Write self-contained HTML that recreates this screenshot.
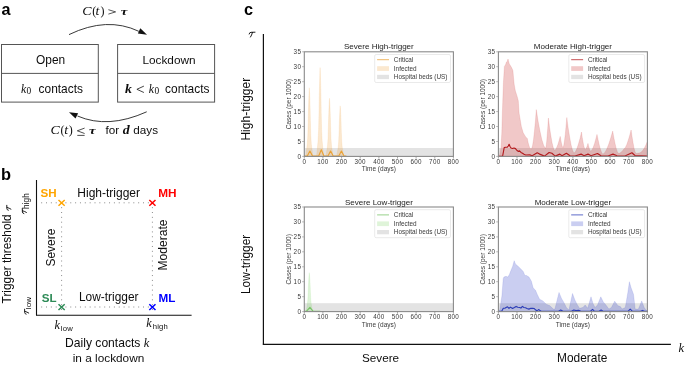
<!DOCTYPE html>
<html><head><meta charset="utf-8">
<style>
html,body{margin:0;padding:0;background:#fff;width:685px;height:366px;overflow:hidden}
svg{display:block;will-change:transform}
text{font-family:"Liberation Sans",sans-serif;fill:#0d0d0d}
.serif{font-family:"Liberation Serif",serif}
.it{font-family:"Liberation Serif",serif;font-style:italic}
.tk{font-size:6.3px;fill:#3a3a3a;letter-spacing:0.28px}
.al{font-size:6.5px;fill:#3a3a3a}
.lg{font-size:6.4px;fill:#3a3a3a}
.ttl{font-size:8.05px;fill:#222}
.lab{font-size:11.7px}
.b{font-weight:bold}
</style></head>
<body>
<svg width="685" height="366" viewBox="0 0 685 366" xmlns="http://www.w3.org/2000/svg">
<!-- panel a -->
<text x="1.5" y="14.8" class="b" style="font-size:16.2px;fill:#000">a</text>
<path d="M69,34.6 Q107,16.2 138.8,31.3" fill="none" stroke="#222" stroke-width="0.9"/>
<path d="M147,34.8 L140.3,28.2 L137.9,33.6 z" fill="#111"/>
<rect x="1.5" y="44.5" width="96.8" height="57.6" fill="none" stroke="#555" stroke-width="1"/>
<line x1="1.5" y1="73.4" x2="98.3" y2="73.4" stroke="#555" stroke-width="1"/>
<rect x="117.6" y="44.5" width="97" height="57.6" fill="none" stroke="#555" stroke-width="1"/>
<line x1="117.6" y1="73.4" x2="214.6" y2="73.4" stroke="#555" stroke-width="1"/>
<text x="50.6" y="63.7" class="lab" text-anchor="middle" style="font-size:11.9px">Open</text>
<text x="169" y="63.7" class="lab" text-anchor="middle" style="font-size:11.8px">Lockdown</text>
<path d="M146.7,111.8 Q108,129.2 77.5,116.0" fill="none" stroke="#222" stroke-width="0.9"/>
<path d="M69,112.3 L78.1,113.2 L75.5,118.6 z" fill="#111"/>
<text transform="translate(82.20,14.7) scale(1.16,1)" style='font-family:"Liberation Serif";font-size:12px;font-style:italic;'>C</text>
<text x="92.32" y="14.7" style='font-family:"Liberation Serif";font-size:12px;'>(</text>
<text transform="translate(95.55,14.7) scale(1.12,1)" style='font-family:"Liberation Serif";font-size:12.3px;font-style:italic;'>t</text>
<text x="100.44" y="14.7" style='font-family:"Liberation Serif";font-size:12px;'>)</text>
<path d="M108.4,9.7L115.6,11.9L108.4,14.1" fill="none" stroke="#222" stroke-width="0.75"/>
<text transform="translate(120.70,14.6) scale(1.35,1)" style='font-family:"Liberation Serif";font-size:11px;font-style:italic;font-weight:bold;'>τ</text>
<text transform="translate(50.40,133.6) scale(1.16,1)" style='font-family:"Liberation Serif";font-size:12px;font-style:italic;'>C</text>
<text x="60.52" y="133.6" style='font-family:"Liberation Serif";font-size:12px;'>(</text>
<text transform="translate(64.25,133.6) scale(1.12,1)" style='font-family:"Liberation Serif";font-size:12.3px;font-style:italic;'>t</text>
<text x="68.64" y="133.6" style='font-family:"Liberation Serif";font-size:12px;'>)</text>
<path d="M84.6,128.1L77.3,130.8L84.6,133.5M77.3,135.4L84.6,135.4" fill="none" stroke="#222" stroke-width="0.8"/>
<text transform="translate(88.90,133.8) scale(1.35,1)" style='font-family:"Liberation Serif";font-size:11px;font-style:italic;font-weight:bold;'>τ</text>
<text x="105.5" y="133.8" class="lab">for</text>
<text transform="translate(122.86,133.8) scale(1.2,1)" style='font-family:"Liberation Serif";font-size:11.6px;font-style:italic;font-weight:bold;'>d</text>
<text x="133.3" y="133.8" class="lab">days</text>
<text x="20.96" y="92.5" style='font-family:"Liberation Serif";font-size:11.8px;font-style:italic;'>k</text>
<text x="26.52" y="94.3" style='font-family:"Liberation Serif";font-size:9.4px;'>0</text>
<text x="38.6" y="92.5" class="lab" style="font-size:11.9px">contacts</text>
<text transform="translate(125.06,92.5) scale(1.15,1)" style='font-family:"Liberation Serif";font-size:12px;font-style:italic;font-weight:bold;'>k</text>
<path d="M143.9,86.1L136.9,89.3L143.9,92.5" fill="none" stroke="#222" stroke-width="0.85"/>
<text x="148.76" y="92.5" style='font-family:"Liberation Serif";font-size:11.8px;font-style:italic;'>k</text>
<text x="154.62" y="94.3" style='font-family:"Liberation Serif";font-size:9.4px;'>0</text>
<text x="165.1" y="92.5" class="lab" style="font-size:11.9px">contacts</text>

<!-- panel b -->
<text x="1.1" y="180" class="b" style="font-size:16.4px;fill:#000">b</text>
<line x1="36.5" y1="180" x2="36.5" y2="315.3" stroke="#111" stroke-width="1.1"/>
<line x1="36" y1="315.3" x2="191.6" y2="315.3" stroke="#111" stroke-width="1.1"/>
<g fill="#8c8c8c">
<rect x="41.15" y="202.30" width="1" height="1"/><rect x="46.00" y="202.30" width="1" height="1"/><rect x="50.85" y="202.30" width="1" height="1"/><rect x="55.70" y="202.30" width="1" height="1"/><rect x="60.55" y="202.30" width="1" height="1"/><rect x="65.40" y="202.30" width="1" height="1"/><rect x="70.25" y="202.30" width="1" height="1"/><rect x="75.10" y="202.30" width="1" height="1"/><rect x="79.95" y="202.30" width="1" height="1"/><rect x="84.80" y="202.30" width="1" height="1"/><rect x="89.65" y="202.30" width="1" height="1"/><rect x="94.50" y="202.30" width="1" height="1"/><rect x="99.35" y="202.30" width="1" height="1"/><rect x="104.20" y="202.30" width="1" height="1"/><rect x="109.05" y="202.30" width="1" height="1"/><rect x="113.90" y="202.30" width="1" height="1"/><rect x="118.75" y="202.30" width="1" height="1"/><rect x="123.60" y="202.30" width="1" height="1"/><rect x="128.45" y="202.30" width="1" height="1"/><rect x="133.30" y="202.30" width="1" height="1"/><rect x="138.15" y="202.30" width="1" height="1"/><rect x="143.00" y="202.30" width="1" height="1"/><rect x="147.85" y="202.30" width="1" height="1"/>
<rect x="41.15" y="306.50" width="1" height="1"/><rect x="46.00" y="306.50" width="1" height="1"/><rect x="50.85" y="306.50" width="1" height="1"/><rect x="55.70" y="306.50" width="1" height="1"/><rect x="60.55" y="306.50" width="1" height="1"/><rect x="65.40" y="306.50" width="1" height="1"/><rect x="70.25" y="306.50" width="1" height="1"/><rect x="75.10" y="306.50" width="1" height="1"/><rect x="79.95" y="306.50" width="1" height="1"/><rect x="84.80" y="306.50" width="1" height="1"/><rect x="89.65" y="306.50" width="1" height="1"/><rect x="94.50" y="306.50" width="1" height="1"/><rect x="99.35" y="306.50" width="1" height="1"/><rect x="104.20" y="306.50" width="1" height="1"/><rect x="109.05" y="306.50" width="1" height="1"/><rect x="113.90" y="306.50" width="1" height="1"/><rect x="118.75" y="306.50" width="1" height="1"/><rect x="123.60" y="306.50" width="1" height="1"/><rect x="128.45" y="306.50" width="1" height="1"/><rect x="133.30" y="306.50" width="1" height="1"/><rect x="138.15" y="306.50" width="1" height="1"/><rect x="143.00" y="306.50" width="1" height="1"/><rect x="147.85" y="306.50" width="1" height="1"/>
<rect x="61.10" y="207.15" width="1" height="1"/><rect x="61.10" y="212.00" width="1" height="1"/><rect x="61.10" y="216.85" width="1" height="1"/><rect x="61.10" y="221.70" width="1" height="1"/><rect x="61.10" y="226.55" width="1" height="1"/><rect x="61.10" y="231.40" width="1" height="1"/><rect x="61.10" y="236.25" width="1" height="1"/><rect x="61.10" y="241.10" width="1" height="1"/><rect x="61.10" y="245.95" width="1" height="1"/><rect x="61.10" y="250.80" width="1" height="1"/><rect x="61.10" y="255.65" width="1" height="1"/><rect x="61.10" y="260.50" width="1" height="1"/><rect x="61.10" y="265.35" width="1" height="1"/><rect x="61.10" y="270.20" width="1" height="1"/><rect x="61.10" y="275.05" width="1" height="1"/><rect x="61.10" y="279.90" width="1" height="1"/><rect x="61.10" y="284.75" width="1" height="1"/><rect x="61.10" y="289.60" width="1" height="1"/><rect x="61.10" y="294.45" width="1" height="1"/><rect x="61.10" y="299.30" width="1" height="1"/><rect x="61.10" y="304.15" width="1" height="1"/><rect x="61.10" y="309.00" width="1" height="1"/>
<rect x="151.90" y="207.15" width="1" height="1"/><rect x="151.90" y="212.00" width="1" height="1"/><rect x="151.90" y="216.85" width="1" height="1"/><rect x="151.90" y="221.70" width="1" height="1"/><rect x="151.90" y="226.55" width="1" height="1"/><rect x="151.90" y="231.40" width="1" height="1"/><rect x="151.90" y="236.25" width="1" height="1"/><rect x="151.90" y="241.10" width="1" height="1"/><rect x="151.90" y="245.95" width="1" height="1"/><rect x="151.90" y="250.80" width="1" height="1"/><rect x="151.90" y="255.65" width="1" height="1"/><rect x="151.90" y="260.50" width="1" height="1"/><rect x="151.90" y="265.35" width="1" height="1"/><rect x="151.90" y="270.20" width="1" height="1"/><rect x="151.90" y="275.05" width="1" height="1"/><rect x="151.90" y="279.90" width="1" height="1"/><rect x="151.90" y="284.75" width="1" height="1"/><rect x="151.90" y="289.60" width="1" height="1"/><rect x="151.90" y="294.45" width="1" height="1"/><rect x="151.90" y="299.30" width="1" height="1"/><rect x="151.90" y="304.15" width="1" height="1"/><rect x="151.90" y="309.00" width="1" height="1"/>
</g>
<path d="M58.50,200.00L64.70,205.80M58.50,205.80L64.70,200.00" stroke="#ffa500" stroke-width="1.5" fill="none"/>
<path d="M149.30,200.00L155.50,205.80M149.30,205.80L155.50,200.00" stroke="#ff0000" stroke-width="1.5" fill="none"/>
<path d="M58.50,304.20L64.70,310.00M58.50,310.00L64.70,304.20" stroke="#2e8b57" stroke-width="1.5" fill="none"/>
<path d="M149.30,304.20L155.50,310.00M149.30,310.00L155.50,304.20" stroke="#0000ff" stroke-width="1.5" fill="none"/>
<text x="40.6" y="197" class="b" style="font-size:11.6px;fill:#ffa500">SH</text>
<text x="158.2" y="197.2" class="b" style="font-size:11.8px;fill:#ff0000">MH</text>
<text x="41.8" y="301.8" class="b" style="font-size:11.6px;fill:#2e8b57">SL</text>
<text x="158.5" y="301.7" class="b" style="font-size:11.7px;fill:#0000ff">ML</text>
<text x="77.3" y="196.6" style="font-size:12px">High-trigger</text>
<text x="79" y="301" style="font-size:11.9px">Low-trigger</text>
<text transform="translate(54.8,247.6) rotate(-90)" text-anchor="middle" style="font-size:12px">Severe</text>
<text transform="translate(166.5,245) rotate(-90)" text-anchor="middle" style="font-size:12.1px">Moderate</text>
<text transform="translate(10.6,303.4) rotate(-90)" style="font-size:11.85px">Trigger threshold</text>
<path transform="translate(10.8,210.4) rotate(-90) scale(0.85)" d="M0.15,-2.9 Q0.45,-4.6 2.0,-4.6 L6.0,-4.7 M3.5,-4.5 Q2.7,-1.6 1.5,0.15" fill="none" stroke="#111" stroke-width="1.12" stroke-linecap="round"/>
<path transform="translate(26.3,213.7) rotate(-90) scale(0.85)" d="M0.15,-2.9 Q0.45,-4.6 2.0,-4.6 L6.0,-4.7 M3.5,-4.5 Q2.7,-1.6 1.5,0.15" fill="none" stroke="#111" stroke-width="1.12" stroke-linecap="round"/><g transform="translate(25.7,213.8) rotate(-90)"><text x="4.7" y="3.4" style="font-size:8.4px;letter-spacing:0.1px">high</text></g>
<path transform="translate(28.6,314.3) rotate(-90) scale(0.85)" d="M0.15,-2.9 Q0.45,-4.6 2.0,-4.6 L6.0,-4.7 M3.5,-4.5 Q2.7,-1.6 1.5,0.15" fill="none" stroke="#111" stroke-width="1.12" stroke-linecap="round"/><g transform="translate(27.8,314.3) rotate(-90)"><text x="5.0" y="2.9" style="font-size:8.1px;letter-spacing:0.15px">low</text></g>
<text x="54.56" y="328.7" style='font-family:"Liberation Serif";font-size:12.2px;font-style:italic;'>k</text>
<text x="60.8" y="330.6" style="font-size:7.7px;letter-spacing:0.2px">low</text>
<text x="146.16" y="327.1" style='font-family:"Liberation Serif";font-size:12.2px;font-style:italic;'>k</text>
<text x="152.7" y="329" style="font-size:7.7px;letter-spacing:0.2px">high</text>
<text x="65.1" y="346.7" style="font-size:12.1px">Daily contacts <tspan class="it" style="font-size:12.4px">k</tspan></text>
<text x="108.5" y="361.9" text-anchor="middle" style="font-size:11.8px">in a lockdown</text>

<!-- panel c -->
<text x="243.9" y="15.0" class="b" style="font-size:16.3px;fill:#000">c</text>
<path transform="translate(249.0,36.9)" d="M0.15,-2.9 Q0.45,-4.6 2.0,-4.6 L6.0,-4.7 M3.5,-4.5 Q2.7,-1.6 1.5,0.15" fill="none" stroke="#111" stroke-width="0.95" stroke-linecap="round"/>
<line x1="263.4" y1="34" x2="263.4" y2="344.4" stroke="#111" stroke-width="1.2"/>
<line x1="262.8" y1="344.4" x2="670.9" y2="344.4" stroke="#111" stroke-width="1.2"/>
<text x="678.5" y="351.7" class="it" style="font-size:12.5px">k</text>
<text transform="translate(250.4,109.2) rotate(-90)" text-anchor="middle" style="font-size:12px">High-trigger</text>
<text transform="translate(250.3,264.4) rotate(-90)" text-anchor="middle" style="font-size:11.85px">Low-trigger</text>
<text x="380.6" y="362" text-anchor="middle" style="font-size:11.7px">Severe</text>
<text x="582.2" y="362" text-anchor="middle" style="font-size:11.9px">Moderate</text>
<rect x="304.3" y="148.0" width="149.1" height="8.4" fill="#e3e3e3"/>
<polygon points="305.7,156.4 305.7,156.4 306.2,153.0 306.6,149.5 307.3,144.1 307.8,135.8 308.2,122.1 308.4,111.8 308.7,101.5 309.0,93.3 309.3,87.8 309.6,93.3 309.9,101.5 310.2,111.8 310.4,122.1 310.8,135.8 311.3,144.1 312.0,149.5 312.4,153.0 312.9,156.4 316.5,156.4 317.0,152.0 317.4,147.5 318.1,140.4 318.6,129.8 319.0,112.0 319.2,98.7 319.5,85.4 319.8,74.7 320.1,67.6 320.4,74.7 320.7,85.4 321.0,98.7 321.2,112.0 321.6,129.8 322.1,140.4 322.8,147.5 323.2,152.0 323.7,156.4 325.9,156.4 326.4,153.5 326.8,150.6 327.5,145.9 328.0,139.0 328.4,127.3 328.6,118.6 328.9,109.9 329.2,102.9 329.5,98.3 329.8,102.9 330.1,109.9 330.4,118.6 330.6,127.3 331.0,139.0 331.5,145.9 332.2,150.6 332.6,153.5 333.1,156.4 336.6,156.4 337.1,153.9 337.5,151.3 338.2,147.3 338.7,141.2 339.1,131.2 339.3,123.6 339.6,116.0 339.9,109.9 340.2,105.9 340.5,109.9 340.8,116.0 341.1,123.6 341.3,131.2 341.7,141.2 342.2,147.3 342.9,151.3 343.3,153.9 343.8,156.4 343.8,156.4" fill="rgba(240,165,70,0.26)" stroke="rgba(240,165,70,0.26)" stroke-width="0.5" stroke-linejoin="round"/>
<polyline points="304.5,156.0 307.3,156.0 309.9,151.1 312.5,156.0 318.7,156.0 321.3,149.8 323.9,156.0 328.0,156.0 330.6,151.1 333.2,156.0 338.8,156.0 341.4,151.1 344.0,156.0 346.0,156.0" fill="none" stroke="#eaa236" stroke-width="1.15" stroke-linejoin="round" stroke-linecap="round"/>
<rect x="304.3" y="51.8" width="149.1" height="104.6" fill="none" stroke="#8a8a8a" stroke-width="1.1"/>
<line x1="302.1" y1="156.4" x2="304.3" y2="156.4" stroke="#999" stroke-width="0.7"/>
<text x="301.2" y="158.7" class="tk" text-anchor="end">0</text>
<line x1="302.1" y1="141.5" x2="304.3" y2="141.5" stroke="#999" stroke-width="0.7"/>
<text x="301.2" y="143.8" class="tk" text-anchor="end">5</text>
<line x1="302.1" y1="126.5" x2="304.3" y2="126.5" stroke="#999" stroke-width="0.7"/>
<text x="301.2" y="128.8" class="tk" text-anchor="end">10</text>
<line x1="302.1" y1="111.6" x2="304.3" y2="111.6" stroke="#999" stroke-width="0.7"/>
<text x="301.2" y="113.9" class="tk" text-anchor="end">15</text>
<line x1="302.1" y1="96.6" x2="304.3" y2="96.6" stroke="#999" stroke-width="0.7"/>
<text x="301.2" y="98.9" class="tk" text-anchor="end">20</text>
<line x1="302.1" y1="81.7" x2="304.3" y2="81.7" stroke="#999" stroke-width="0.7"/>
<text x="301.2" y="84.0" class="tk" text-anchor="end">25</text>
<line x1="302.1" y1="66.7" x2="304.3" y2="66.7" stroke="#999" stroke-width="0.7"/>
<text x="301.2" y="69.0" class="tk" text-anchor="end">30</text>
<line x1="302.1" y1="51.8" x2="304.3" y2="51.8" stroke="#999" stroke-width="0.7"/>
<text x="301.2" y="54.1" class="tk" text-anchor="end">35</text>
<line x1="304.3" y1="156.4" x2="304.3" y2="158.6" stroke="#888" stroke-width="0.7"/>
<text x="304.3" y="164.0" class="tk" text-anchor="middle">0</text>
<line x1="322.9" y1="156.4" x2="322.9" y2="158.6" stroke="#888" stroke-width="0.7"/>
<text x="322.9" y="164.0" class="tk" text-anchor="middle">100</text>
<line x1="341.6" y1="156.4" x2="341.6" y2="158.6" stroke="#888" stroke-width="0.7"/>
<text x="341.6" y="164.0" class="tk" text-anchor="middle">200</text>
<line x1="360.2" y1="156.4" x2="360.2" y2="158.6" stroke="#888" stroke-width="0.7"/>
<text x="360.2" y="164.0" class="tk" text-anchor="middle">300</text>
<line x1="378.9" y1="156.4" x2="378.9" y2="158.6" stroke="#888" stroke-width="0.7"/>
<text x="378.9" y="164.0" class="tk" text-anchor="middle">400</text>
<line x1="397.5" y1="156.4" x2="397.5" y2="158.6" stroke="#888" stroke-width="0.7"/>
<text x="397.5" y="164.0" class="tk" text-anchor="middle">500</text>
<line x1="416.1" y1="156.4" x2="416.1" y2="158.6" stroke="#888" stroke-width="0.7"/>
<text x="416.1" y="164.0" class="tk" text-anchor="middle">600</text>
<line x1="434.8" y1="156.4" x2="434.8" y2="158.6" stroke="#888" stroke-width="0.7"/>
<text x="434.8" y="164.0" class="tk" text-anchor="middle">700</text>
<line x1="453.4" y1="156.4" x2="453.4" y2="158.6" stroke="#888" stroke-width="0.7"/>
<text x="453.4" y="164.0" class="tk" text-anchor="middle">800</text>
<text x="378.9" y="171.3" class="al" text-anchor="middle">Time (days)</text>
<text x="378.9" y="49.4" class="ttl" text-anchor="middle">Severe High-trigger</text>
<text transform="translate(290.9,104.1) rotate(-90)" class="al" text-anchor="middle">Cases (per 1000)</text>
<rect x="374.7" y="54.5" width="75.8" height="28" rx="1.5" fill="#fff" fill-opacity="0.8" stroke="#dcdcdc" stroke-width="0.6"/>
<line x1="377.1" y1="59.7" x2="389.0" y2="59.7" stroke="#eaa236" stroke-width="0.9" stroke-opacity="0.85"/>
<rect x="377.1" y="66.2" width="11.9" height="4.7" fill="rgba(240,165,70,0.26)"/>
<rect x="377.1" y="74.8" width="11.9" height="4.3" fill="#e3e3e3"/>
<text x="393.8" y="62.1" class="lg">Critical</text>
<text x="393.8" y="70.5" class="lg">Infected</text>
<text x="393.8" y="79.1" class="lg">Hospital beds (US)</text>
<rect x="498.4" y="148.0" width="149.0" height="8.4" fill="#e3e3e3"/>
<polygon points="498.5,156.4 498.5,156.4 499.5,155.7 501.0,147.5 501.8,132.8 502.3,115.0 502.8,100.0 503.4,82.8 504.4,66.4 505.5,64.8 506.5,62.0 507.2,61.5 508.0,59.0 508.8,62.0 509.3,63.9 510.4,65.6 511.8,68.0 512.9,70.5 513.4,76.2 514.2,84.4 515.4,91.0 517.0,95.9 518.3,100.8 519.1,113.1 521.3,126.2 523.2,132.8 525.7,136.9 527.3,138.5 528.1,142.6 529.8,148.2 530.2,148.4 530.5,148.5 530.9,148.7 531.2,148.8 531.6,148.8 532.5,145.8 533.5,139.8 534.4,131.5 535.4,121.4 536.3,109.6 538.1,121.3 540.0,131.3 541.8,139.5 543.7,145.5 545.5,148.5 546.1,146.2 546.7,141.5 547.2,135.0 547.8,127.2 548.4,118.0 549.6,127.8 550.9,136.1 552.1,143.0 553.4,148.0 554.6,150.5 555.7,149.4 556.8,147.2 558.0,144.3 559.1,140.6 560.2,136.4 560.8,139.7 561.3,142.6 561.9,144.9 562.4,146.7 563.0,147.5 563.8,145.2 564.5,140.6 565.3,134.3 566.0,126.5 566.8,117.5 568.2,128.2 569.7,137.4 571.1,145.0 572.6,150.5 574.0,153.2 575.5,151.6 577.0,148.3 578.5,143.8 580.0,138.4 581.5,132.0 582.2,137.3 583.0,141.8 583.7,145.5 584.5,148.2 585.2,149.5 585.8,149.0 586.3,148.1 586.9,146.8 587.4,145.2 588.0,143.4 588.5,145.7 589.1,147.8 589.6,149.4 590.2,150.6 590.7,151.2 592.0,149.9 593.2,147.3 594.5,143.8 595.7,139.4 597.0,134.4 598.2,140.3 599.4,145.5 600.5,149.6 601.7,152.7 602.9,154.2 604.9,152.4 606.8,148.9 608.8,144.0 610.7,138.0 612.7,131.1 613.9,137.9 615.1,143.7 616.2,148.4 617.4,151.9 618.6,153.6 619.6,153.3 620.6,152.6 621.7,151.7 622.7,150.5 623.7,149.2 625.2,147.7 626.7,144.8 628.1,140.7 629.6,135.8 631.1,130.0 632.1,137.1 633.1,143.1 634.0,148.1 635.0,151.7 636.0,153.5 636.8,153.4 637.6,153.3 638.5,153.1 639.3,152.9 640.1,152.7 641.6,151.8 643.0,150.1 644.5,147.8 645.9,144.9 647.4,141.5 647.4,156.4" fill="rgba(205,50,50,0.27)" stroke="rgba(205,50,50,0.27)" stroke-width="0.5" stroke-linejoin="round"/>
<polyline points="498.6,156.3 502.6,156.2 503.4,152.0 504.2,147.6 505.5,147.3 507.3,147.2 508.3,146.0 509.1,144.3 510.0,146.5 511.0,148.0 512.5,148.5 514.0,148.0 515.5,148.6 517.0,150.5 518.5,151.5 519.5,150.8 521.0,152.4 522.5,153.2 524.0,154.3 525.7,155.0 529.8,154.9 532.2,155.7 537.2,152.8 539.6,154.1 544.5,156.1 549.1,152.5 551.9,153.3 555.2,156.1 559.8,154.1 562.0,155.8 566.4,153.3 570.0,155.8 575.0,156.0 581.1,154.1 584.0,155.8 588.0,154.1 591.0,155.8 597.5,153.5 601.0,155.8 608.0,156.0 613.0,154.1 617.0,155.8 625.0,156.0 631.9,152.8 635.0,155.5 647.3,156.0" fill="none" stroke="#b3191c" stroke-width="1.15" stroke-linejoin="round" stroke-linecap="round"/>
<rect x="498.4" y="51.8" width="149.0" height="104.6" fill="none" stroke="#8a8a8a" stroke-width="1.1"/>
<line x1="496.2" y1="156.4" x2="498.4" y2="156.4" stroke="#999" stroke-width="0.7"/>
<text x="495.3" y="158.7" class="tk" text-anchor="end">0</text>
<line x1="496.2" y1="141.5" x2="498.4" y2="141.5" stroke="#999" stroke-width="0.7"/>
<text x="495.3" y="143.8" class="tk" text-anchor="end">5</text>
<line x1="496.2" y1="126.5" x2="498.4" y2="126.5" stroke="#999" stroke-width="0.7"/>
<text x="495.3" y="128.8" class="tk" text-anchor="end">10</text>
<line x1="496.2" y1="111.6" x2="498.4" y2="111.6" stroke="#999" stroke-width="0.7"/>
<text x="495.3" y="113.9" class="tk" text-anchor="end">15</text>
<line x1="496.2" y1="96.6" x2="498.4" y2="96.6" stroke="#999" stroke-width="0.7"/>
<text x="495.3" y="98.9" class="tk" text-anchor="end">20</text>
<line x1="496.2" y1="81.7" x2="498.4" y2="81.7" stroke="#999" stroke-width="0.7"/>
<text x="495.3" y="84.0" class="tk" text-anchor="end">25</text>
<line x1="496.2" y1="66.7" x2="498.4" y2="66.7" stroke="#999" stroke-width="0.7"/>
<text x="495.3" y="69.0" class="tk" text-anchor="end">30</text>
<line x1="496.2" y1="51.8" x2="498.4" y2="51.8" stroke="#999" stroke-width="0.7"/>
<text x="495.3" y="54.1" class="tk" text-anchor="end">35</text>
<line x1="498.4" y1="156.4" x2="498.4" y2="158.6" stroke="#888" stroke-width="0.7"/>
<text x="498.4" y="164.0" class="tk" text-anchor="middle">0</text>
<line x1="517.0" y1="156.4" x2="517.0" y2="158.6" stroke="#888" stroke-width="0.7"/>
<text x="517.0" y="164.0" class="tk" text-anchor="middle">100</text>
<line x1="535.6" y1="156.4" x2="535.6" y2="158.6" stroke="#888" stroke-width="0.7"/>
<text x="535.6" y="164.0" class="tk" text-anchor="middle">200</text>
<line x1="554.3" y1="156.4" x2="554.3" y2="158.6" stroke="#888" stroke-width="0.7"/>
<text x="554.3" y="164.0" class="tk" text-anchor="middle">300</text>
<line x1="572.9" y1="156.4" x2="572.9" y2="158.6" stroke="#888" stroke-width="0.7"/>
<text x="572.9" y="164.0" class="tk" text-anchor="middle">400</text>
<line x1="591.5" y1="156.4" x2="591.5" y2="158.6" stroke="#888" stroke-width="0.7"/>
<text x="591.5" y="164.0" class="tk" text-anchor="middle">500</text>
<line x1="610.1" y1="156.4" x2="610.1" y2="158.6" stroke="#888" stroke-width="0.7"/>
<text x="610.1" y="164.0" class="tk" text-anchor="middle">600</text>
<line x1="628.8" y1="156.4" x2="628.8" y2="158.6" stroke="#888" stroke-width="0.7"/>
<text x="628.8" y="164.0" class="tk" text-anchor="middle">700</text>
<line x1="647.4" y1="156.4" x2="647.4" y2="158.6" stroke="#888" stroke-width="0.7"/>
<text x="647.4" y="164.0" class="tk" text-anchor="middle">800</text>
<text x="572.9" y="171.3" class="al" text-anchor="middle">Time (days)</text>
<text x="572.9" y="49.4" class="ttl" text-anchor="middle">Moderate High-trigger</text>
<text transform="translate(485.0,104.1) rotate(-90)" class="al" text-anchor="middle">Cases (per 1000)</text>
<rect x="568.8" y="54.5" width="75.8" height="28" rx="1.5" fill="#fff" fill-opacity="0.8" stroke="#dcdcdc" stroke-width="0.6"/>
<line x1="571.2" y1="59.7" x2="583.1" y2="59.7" stroke="#b3191c" stroke-width="0.9" stroke-opacity="0.85"/>
<rect x="571.2" y="66.2" width="11.9" height="4.7" fill="rgba(205,50,50,0.27)"/>
<rect x="571.2" y="74.8" width="11.9" height="4.3" fill="#e3e3e3"/>
<text x="587.9" y="62.1" class="lg">Critical</text>
<text x="587.9" y="70.5" class="lg">Infected</text>
<text x="587.9" y="79.1" class="lg">Hospital beds (US)</text>
<rect x="304.3" y="303.2" width="149.1" height="8.4" fill="#e3e3e3"/>
<polygon points="305.9,311.6 305.9,311.6 306.4,309.7 306.8,307.7 307.3,304.6 307.8,299.9 308.2,292.1 308.4,286.3 308.7,280.5 309.0,275.8 309.3,272.7 309.6,275.8 309.9,280.5 310.2,286.3 310.4,292.1 310.8,299.9 311.3,304.6 311.8,307.7 312.2,309.7 312.7,311.6 312.7,311.6" fill="rgba(110,205,80,0.22)" stroke="rgba(110,205,80,0.22)" stroke-width="0.5" stroke-linejoin="round"/>
<polyline points="304.5,311.2 306.6,311.2 309.9,307.3 313.0,311.2 320.0,311.2" fill="none" stroke="#78c466" stroke-width="1.15" stroke-linejoin="round" stroke-linecap="round"/>
<rect x="304.3" y="207.0" width="149.1" height="104.6" fill="none" stroke="#8a8a8a" stroke-width="1.1"/>
<line x1="302.1" y1="311.6" x2="304.3" y2="311.6" stroke="#999" stroke-width="0.7"/>
<text x="301.2" y="313.9" class="tk" text-anchor="end">0</text>
<line x1="302.1" y1="296.7" x2="304.3" y2="296.7" stroke="#999" stroke-width="0.7"/>
<text x="301.2" y="299.0" class="tk" text-anchor="end">5</text>
<line x1="302.1" y1="281.7" x2="304.3" y2="281.7" stroke="#999" stroke-width="0.7"/>
<text x="301.2" y="284.0" class="tk" text-anchor="end">10</text>
<line x1="302.1" y1="266.8" x2="304.3" y2="266.8" stroke="#999" stroke-width="0.7"/>
<text x="301.2" y="269.1" class="tk" text-anchor="end">15</text>
<line x1="302.1" y1="251.8" x2="304.3" y2="251.8" stroke="#999" stroke-width="0.7"/>
<text x="301.2" y="254.1" class="tk" text-anchor="end">20</text>
<line x1="302.1" y1="236.9" x2="304.3" y2="236.9" stroke="#999" stroke-width="0.7"/>
<text x="301.2" y="239.2" class="tk" text-anchor="end">25</text>
<line x1="302.1" y1="221.9" x2="304.3" y2="221.9" stroke="#999" stroke-width="0.7"/>
<text x="301.2" y="224.2" class="tk" text-anchor="end">30</text>
<line x1="302.1" y1="207.0" x2="304.3" y2="207.0" stroke="#999" stroke-width="0.7"/>
<text x="301.2" y="209.3" class="tk" text-anchor="end">35</text>
<line x1="304.3" y1="311.6" x2="304.3" y2="313.8" stroke="#888" stroke-width="0.7"/>
<text x="304.3" y="319.2" class="tk" text-anchor="middle">0</text>
<line x1="322.9" y1="311.6" x2="322.9" y2="313.8" stroke="#888" stroke-width="0.7"/>
<text x="322.9" y="319.2" class="tk" text-anchor="middle">100</text>
<line x1="341.6" y1="311.6" x2="341.6" y2="313.8" stroke="#888" stroke-width="0.7"/>
<text x="341.6" y="319.2" class="tk" text-anchor="middle">200</text>
<line x1="360.2" y1="311.6" x2="360.2" y2="313.8" stroke="#888" stroke-width="0.7"/>
<text x="360.2" y="319.2" class="tk" text-anchor="middle">300</text>
<line x1="378.9" y1="311.6" x2="378.9" y2="313.8" stroke="#888" stroke-width="0.7"/>
<text x="378.9" y="319.2" class="tk" text-anchor="middle">400</text>
<line x1="397.5" y1="311.6" x2="397.5" y2="313.8" stroke="#888" stroke-width="0.7"/>
<text x="397.5" y="319.2" class="tk" text-anchor="middle">500</text>
<line x1="416.1" y1="311.6" x2="416.1" y2="313.8" stroke="#888" stroke-width="0.7"/>
<text x="416.1" y="319.2" class="tk" text-anchor="middle">600</text>
<line x1="434.8" y1="311.6" x2="434.8" y2="313.8" stroke="#888" stroke-width="0.7"/>
<text x="434.8" y="319.2" class="tk" text-anchor="middle">700</text>
<line x1="453.4" y1="311.6" x2="453.4" y2="313.8" stroke="#888" stroke-width="0.7"/>
<text x="453.4" y="319.2" class="tk" text-anchor="middle">800</text>
<text x="378.9" y="326.5" class="al" text-anchor="middle">Time (days)</text>
<text x="378.9" y="204.6" class="ttl" text-anchor="middle">Severe Low-trigger</text>
<text transform="translate(290.9,259.3) rotate(-90)" class="al" text-anchor="middle">Cases (per 1000)</text>
<rect x="374.7" y="209.7" width="75.8" height="28" rx="1.5" fill="#fff" fill-opacity="0.8" stroke="#dcdcdc" stroke-width="0.6"/>
<line x1="377.1" y1="214.9" x2="389.0" y2="214.9" stroke="#78c466" stroke-width="0.9" stroke-opacity="0.85"/>
<rect x="377.1" y="221.4" width="11.9" height="4.7" fill="rgba(110,205,80,0.22)"/>
<rect x="377.1" y="230.0" width="11.9" height="4.3" fill="#e3e3e3"/>
<text x="393.8" y="217.3" class="lg">Critical</text>
<text x="393.8" y="225.7" class="lg">Infected</text>
<text x="393.8" y="234.3" class="lg">Hospital beds (US)</text>
<rect x="498.4" y="303.2" width="149.0" height="8.4" fill="#e3e3e3"/>
<polygon points="499.5,311.6 499.5,311.6 501.9,296.0 503.2,278.8 503.9,277.1 506.0,276.3 507.7,277.1 509.3,274.7 510.9,270.6 512.6,266.5 514.2,260.7 515.4,264.0 517.5,265.7 519.1,267.3 521.6,269.8 523.2,271.4 524.9,275.5 526.5,275.5 529.0,277.1 531.4,281.2 533.1,287.8 535.5,290.2 537.2,294.3 539.6,299.3 542.9,300.9 546.2,304.2 550.0,305.8 553.3,309.1 554.9,309.1 559.0,292.4 561.5,298.4 563.9,302.5 566.4,307.5 568.9,310.0 572.5,293.5 574.6,299.3 577.0,304.2 579.5,308.3 582.8,307.5 585.2,305.0 587.7,308.3 591.0,296.8 593.0,303.4 595.0,307.5 597.5,305.0 600.8,296.8 603.2,301.7 606.5,305.8 608.9,309.1 611.4,307.5 614.7,301.2 618.0,305.8 620.4,306.6 622.0,309.1 625.3,307.5 627.8,292.7 629.4,281.7 631.1,287.8 633.5,294.3 635.2,309.1 638.4,309.1 641.7,300.9 644.2,307.5 646.6,310.7 647.3,311.0 647.3,311.6" fill="rgba(60,75,205,0.27)" stroke="rgba(60,75,205,0.27)" stroke-width="0.5" stroke-linejoin="round"/>
<polyline points="498.6,311.4 501.7,311.2 503.3,308.3 505.2,308.1 507.5,306.8 509.0,308.3 510.5,307.1 512.5,308.5 514.4,307.5 516.1,306.4 517.8,307.3 519.7,307.5 520.9,308.1 522.4,306.4 523.9,307.5 525.5,307.8 527.0,308.5 528.9,309.1 530.8,308.3 532.8,308.3 534.3,308.5 535.4,309.8 536.6,310.6 537.7,310.2 538.9,309.6 540.0,310.6 541.2,311.3 558.5,311.3 560.7,310.0 563.0,311.3 571.5,311.3 573.8,310.0 576.0,310.6 578.7,310.4 581.0,311.3 590.5,311.3 592.6,309.4 594.5,311.3 599.0,311.3 601.1,310.0 603.0,311.3 628.0,311.3 630.2,309.1 632.5,311.3 640.5,311.3 642.5,310.4 644.5,311.3 647.3,311.3" fill="none" stroke="#2b3cb8" stroke-width="1.15" stroke-linejoin="round" stroke-linecap="round"/>
<rect x="498.4" y="207.0" width="149.0" height="104.6" fill="none" stroke="#8a8a8a" stroke-width="1.1"/>
<line x1="496.2" y1="311.6" x2="498.4" y2="311.6" stroke="#999" stroke-width="0.7"/>
<text x="495.3" y="313.9" class="tk" text-anchor="end">0</text>
<line x1="496.2" y1="296.7" x2="498.4" y2="296.7" stroke="#999" stroke-width="0.7"/>
<text x="495.3" y="299.0" class="tk" text-anchor="end">5</text>
<line x1="496.2" y1="281.7" x2="498.4" y2="281.7" stroke="#999" stroke-width="0.7"/>
<text x="495.3" y="284.0" class="tk" text-anchor="end">10</text>
<line x1="496.2" y1="266.8" x2="498.4" y2="266.8" stroke="#999" stroke-width="0.7"/>
<text x="495.3" y="269.1" class="tk" text-anchor="end">15</text>
<line x1="496.2" y1="251.8" x2="498.4" y2="251.8" stroke="#999" stroke-width="0.7"/>
<text x="495.3" y="254.1" class="tk" text-anchor="end">20</text>
<line x1="496.2" y1="236.9" x2="498.4" y2="236.9" stroke="#999" stroke-width="0.7"/>
<text x="495.3" y="239.2" class="tk" text-anchor="end">25</text>
<line x1="496.2" y1="221.9" x2="498.4" y2="221.9" stroke="#999" stroke-width="0.7"/>
<text x="495.3" y="224.2" class="tk" text-anchor="end">30</text>
<line x1="496.2" y1="207.0" x2="498.4" y2="207.0" stroke="#999" stroke-width="0.7"/>
<text x="495.3" y="209.3" class="tk" text-anchor="end">35</text>
<line x1="498.4" y1="311.6" x2="498.4" y2="313.8" stroke="#888" stroke-width="0.7"/>
<text x="498.4" y="319.2" class="tk" text-anchor="middle">0</text>
<line x1="517.0" y1="311.6" x2="517.0" y2="313.8" stroke="#888" stroke-width="0.7"/>
<text x="517.0" y="319.2" class="tk" text-anchor="middle">100</text>
<line x1="535.6" y1="311.6" x2="535.6" y2="313.8" stroke="#888" stroke-width="0.7"/>
<text x="535.6" y="319.2" class="tk" text-anchor="middle">200</text>
<line x1="554.3" y1="311.6" x2="554.3" y2="313.8" stroke="#888" stroke-width="0.7"/>
<text x="554.3" y="319.2" class="tk" text-anchor="middle">300</text>
<line x1="572.9" y1="311.6" x2="572.9" y2="313.8" stroke="#888" stroke-width="0.7"/>
<text x="572.9" y="319.2" class="tk" text-anchor="middle">400</text>
<line x1="591.5" y1="311.6" x2="591.5" y2="313.8" stroke="#888" stroke-width="0.7"/>
<text x="591.5" y="319.2" class="tk" text-anchor="middle">500</text>
<line x1="610.1" y1="311.6" x2="610.1" y2="313.8" stroke="#888" stroke-width="0.7"/>
<text x="610.1" y="319.2" class="tk" text-anchor="middle">600</text>
<line x1="628.8" y1="311.6" x2="628.8" y2="313.8" stroke="#888" stroke-width="0.7"/>
<text x="628.8" y="319.2" class="tk" text-anchor="middle">700</text>
<line x1="647.4" y1="311.6" x2="647.4" y2="313.8" stroke="#888" stroke-width="0.7"/>
<text x="647.4" y="319.2" class="tk" text-anchor="middle">800</text>
<text x="572.9" y="326.5" class="al" text-anchor="middle">Time (days)</text>
<text x="572.9" y="204.6" class="ttl" text-anchor="middle">Moderate Low-trigger</text>
<text transform="translate(485.0,259.3) rotate(-90)" class="al" text-anchor="middle">Cases (per 1000)</text>
<rect x="568.8" y="209.7" width="75.8" height="28" rx="1.5" fill="#fff" fill-opacity="0.8" stroke="#dcdcdc" stroke-width="0.6"/>
<line x1="571.2" y1="214.9" x2="583.1" y2="214.9" stroke="#2b3cb8" stroke-width="0.9" stroke-opacity="0.85"/>
<rect x="571.2" y="221.4" width="11.9" height="4.7" fill="rgba(60,75,205,0.27)"/>
<rect x="571.2" y="230.0" width="11.9" height="4.3" fill="#e3e3e3"/>
<text x="587.9" y="217.3" class="lg">Critical</text>
<text x="587.9" y="225.7" class="lg">Infected</text>
<text x="587.9" y="234.3" class="lg">Hospital beds (US)</text>
</svg>
</body></html>
